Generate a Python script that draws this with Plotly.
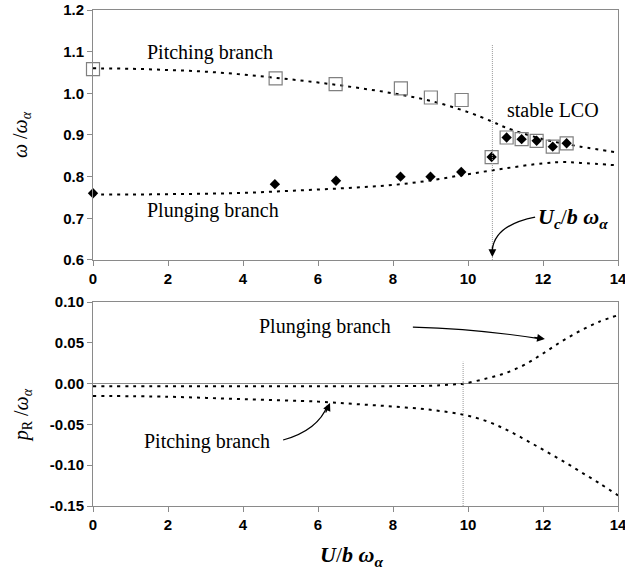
import plotly.graph_objects as go

# ---- frequency branches (upper panel) ----
u_curve = [0, 1, 2, 3, 4, 5, 6, 7, 8, 9, 10, 10.65, 11, 12, 13, 14]
pitch_freq = [1.060, 1.059, 1.056, 1.052, 1.045, 1.036, 1.026, 1.014, 1.000,
              0.982, 0.955, 0.932, 0.918, 0.890, 0.872, 0.858]

u_plunge = [0, 1, 2, 3, 4, 5, 6, 7, 8, 9, 10, 11, 12, 12.5, 13, 14]
plunge_freq = [0.757, 0.757, 0.758, 0.759, 0.761, 0.765, 0.769, 0.774, 0.780,
               0.791, 0.806, 0.820, 0.832, 0.835, 0.833, 0.827]

# measured frequencies
u_square = [0, 4.87, 6.47, 8.21, 9.01, 9.83, 10.63, 11.03, 11.43, 11.83, 12.26, 12.63]
w_square = [1.058, 1.036, 1.022, 1.012, 0.990, 0.984, 0.847, 0.894, 0.890, 0.886, 0.872, 0.880]

u_diamond = [0, 4.85, 6.48, 8.2, 9.0, 9.82, 10.63, 11.03, 11.43, 11.83, 12.26, 12.63]
w_diamond = [0.760, 0.782, 0.790, 0.800, 0.800, 0.811, 0.847, 0.894, 0.890, 0.886, 0.872, 0.880]

# ---- damping (lower panel) ----
u_damp_plunge = [0, 2, 4, 6, 8, 9, 9.5, 9.87, 10.5, 11, 11.5, 12, 12.5, 13, 13.5, 14]
damp_plunge = [-0.003, -0.003, -0.003, -0.003, -0.003, -0.0025, -0.0012, 0.0,
               0.0065, 0.013, 0.023, 0.037, 0.052, 0.065, 0.076, 0.084]

u_damp_pitch = [0, 2, 4, 6, 7, 8, 9, 9.87, 10.5, 11, 11.5, 12, 12.5, 13, 13.5, 14]
damp_pitch = [-0.015, -0.016, -0.019, -0.022, -0.025, -0.028, -0.032, -0.038,
              -0.046, -0.056, -0.068, -0.081, -0.094, -0.108, -0.122, -0.137]

U_LCO = 10.65        # onset of stable LCO
U_FLUTTER = 9.87     # linear flutter speed

x_ticks = [0, 2, 4, 6, 8, 10, 12, 14]
x_ticktext = ["0", "2", "4", "6", "8", "10", "12", "14"]
y1_ticks = [0.6, 0.7, 0.8, 0.9, 1.0, 1.1, 1.2]
y1_ticktext = ["0.6", "0.7", "0.8", "0.9", "1.0", "1.1", "1.2"]
y2_ticks = [-0.15, -0.10, -0.05, 0.0, 0.05, 0.10]
y2_ticktext = ["-0.15", "-0.10", "-0.05", "0.00", "0.05", "0.10"]

def bold(labels):
    return ["<b>" + t + "</b>" for t in labels]

SERIF = "Times New Roman, Liberation Serif, serif"
SANS = "Arial, Liberation Sans, sans-serif"
AXIS_GRAY = "#8a8a8a"
dash_line = dict(color="black", width=2, dash="3px,5px", shape="spline")

fig = go.Figure()

fig.add_trace(go.Scatter(x=u_curve, y=pitch_freq, mode="lines", line=dash_line,
                         xaxis="x", yaxis="y"))
fig.add_trace(go.Scatter(x=u_plunge, y=plunge_freq, mode="lines", line=dash_line,
                         xaxis="x", yaxis="y"))
fig.add_trace(go.Scatter(x=u_square, y=w_square, mode="markers", cliponaxis=False,
                         marker=dict(symbol="square-open", size=13, color="#808080",
                                     line=dict(width=1.2, color="#808080")),
                         xaxis="x", yaxis="y"))
fig.add_trace(go.Scatter(x=u_diamond, y=w_diamond, mode="markers", cliponaxis=False,
                         marker=dict(symbol="diamond", size=8, color="black"),
                         xaxis="x", yaxis="y"))

fig.add_trace(go.Scatter(x=u_damp_plunge, y=damp_plunge, mode="lines", line=dash_line,
                         xaxis="x2", yaxis="y2"))
fig.add_trace(go.Scatter(x=u_damp_pitch, y=damp_pitch, mode="lines", line=dash_line,
                         xaxis="x2", yaxis="y2"))

axis_common = dict(
    showline=True, mirror=True, linecolor=AXIS_GRAY, linewidth=1,
    ticks="outside", ticklen=5, tickcolor=AXIS_GRAY, showgrid=False,
    ticklabeloverflow="allow", automargin=False,
    tickfont=dict(family=SANS, size=15, color="black"),
)

fig.update_layout(
    width=625, height=573,
    margin=dict(l=93, r=7, t=10, b=67),
    paper_bgcolor="white", plot_bgcolor="white",
    showlegend=False,
    xaxis=dict(domain=[0, 1], anchor="y", range=[0, 14], tickvals=x_ticks,
               ticktext=bold(x_ticktext), zeroline=False, **axis_common),
    yaxis=dict(domain=[0.496, 1], anchor="x", range=[0.6, 1.2], tickvals=y1_ticks,
               ticktext=bold(y1_ticktext), zeroline=False, **axis_common),
    xaxis2=dict(domain=[0, 1], anchor="y2", range=[0, 14], tickvals=x_ticks,
                ticktext=bold(x_ticktext), zeroline=False, **axis_common),
    yaxis2=dict(domain=[0, 0.411], anchor="x2", range=[-0.15, 0.10], tickvals=y2_ticks,
                ticktext=bold(y2_ticktext), zeroline=True, zerolinecolor=AXIS_GRAY,
                zerolinewidth=1, **axis_common),
)

# vertical markers of the critical speeds
fig.add_shape(type="line", xref="x", yref="y", x0=U_LCO, x1=U_LCO, y0=0.6, y1=1.116,
              line=dict(color="#999999", width=1, dash="1px,1px"))
fig.add_shape(type="line", xref="x2", yref="y2", x0=U_FLUTTER, x1=U_FLUTTER,
              y0=-0.15, y1=0.027, line=dict(color="#999999", width=1, dash="1px,1px"))

# curved leader lines
leader = dict(color="black", width=1.2)
fig.add_shape(type="path", xref="x", yref="y",
              path="M 11.79,0.703 Q 10.72,0.684 10.65,0.625", line=leader)
fig.add_shape(type="path", xref="x2", yref="y2",
              path="M 8.53,0.0694 Q 10.32,0.0669 11.9,0.0552", line=leader)
fig.add_shape(type="path", xref="x2", yref="y2",
              path="M 5.07,-0.0691 Q 6.0,-0.0569 6.25,-0.027", line=leader)

def arrow_head(xref, yref, x, y, ax, ay):
    fig.add_annotation(xref=xref, yref=yref, x=x, y=y, ax=ax, ay=ay, text="",
                       showarrow=True, arrowhead=2, arrowsize=1.3, arrowwidth=1.2,
                       arrowcolor="black", standoff=0)

arrow_head("x", "y", U_LCO, 0.607, 0, -12)
arrow_head("x2", "y2", 12.05, 0.0547, -12, -2)
arrow_head("x2", "y2", 6.32, -0.0238, -5, 11)

serif_font = dict(family=SERIF, size=20, color="black")

def label(xref, yref, x, y, text, font=serif_font):
    fig.add_annotation(xref=xref, yref=yref, x=x, y=y, text=text, showarrow=False,
                       font=font, xanchor="center", yanchor="middle")

label("x", "y", 3.12, 1.099, "Pitching branch")
label("x", "y", 3.2, 0.718, "Plunging branch")
label("x", "y", 12.27, 0.96, "stable LCO")
label("x", "y", 12.8, 0.70,
      "<b><i>U<sub>c</sub></i></b>/<b><i>b</i></b> <b><i>ω<sub>α</sub></i></b>",
      dict(family=SERIF, size=22, color="black"))
label("x2", "y2", 6.19, 0.07, "Plunging branch")
label("x2", "y2", 3.03, -0.071, "Pitching branch")

# axis titles
fig.add_annotation(xref="paper", yref="paper", x=-0.135, y=0.748,
                   text="<i>ω</i> /<i>ω<sub>α</sub></i>", textangle=-90, showarrow=False,
                   font=dict(family=SERIF, size=20, color="black"),
                   xanchor="center", yanchor="middle")
fig.add_annotation(xref="paper", yref="paper", x=-0.135, y=0.183,
                   text="<i>p</i><sub>R</sub> /<i>ω<sub>α</sub></i>", textangle=-90,
                   showarrow=False, font=dict(family=SERIF, size=20, color="black"),
                   xanchor="center", yanchor="middle")
fig.add_annotation(xref="paper", yref="paper", x=0.493, y=-0.101,
                   text="<b><i>U</i></b>/<b><i>b</i></b> <b><i>ω<sub>α</sub></i></b>",
                   showarrow=False, font=dict(family=SERIF, size=22, color="black"),
                   xanchor="center", yanchor="middle")

fig.write_html("out.html")
